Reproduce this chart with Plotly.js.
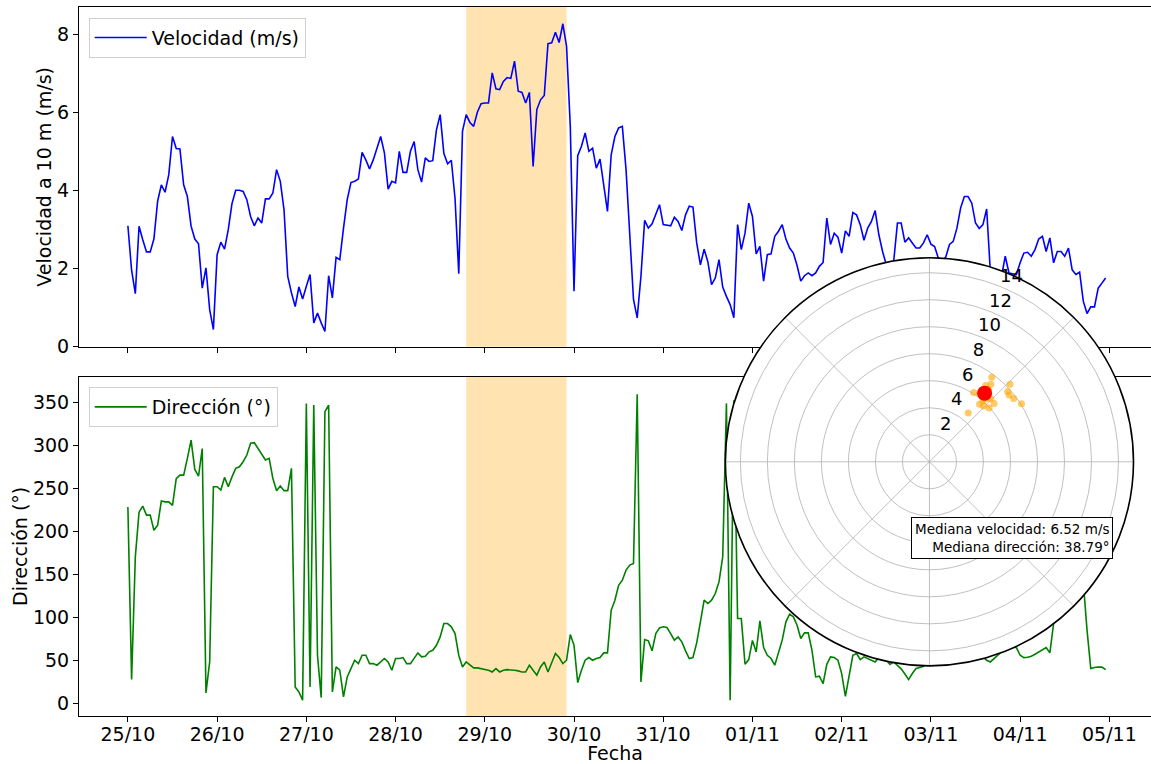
<!DOCTYPE html>
<html>
<head>
<meta charset="utf-8">
<script src="https://cdn.plot.ly/plotly-3.0.1.min.js"></script>
<style>
html,body{margin:0;padding:0;background:#fff;overflow:hidden;}
#chart{width:1151px;height:764px;}
</style>
</head>
<body>
<div id="chart"></div>
<script>
// ---- Data (hourly, starting 25/10 00:00) ----
const startDate = '2024-10-25T00:00:00Z';
const speed = [
 3.10,1.96,1.36,3.09,2.74,2.43,2.43,2.76,3.73,4.15,3.96,4.41,5.39,5.08,5.07,4.15,3.85,3.09,2.76,2.64,1.50,2.02,0.95,0.44,
 2.36,2.68,2.50,3.00,3.67,4.01,4.01,3.98,3.77,3.34,3.10,3.30,3.17,3.79,3.79,3.94,4.54,4.24,3.51,1.80,1.38,1.03,1.53,1.22,
 1.55,1.85,0.61,0.86,0.61,0.39,1.82,1.25,2.29,2.23,3.04,3.77,4.21,4.24,4.30,4.98,4.79,4.56,4.79,5.09,5.39,4.97,4.04,4.24,
 4.20,5.01,4.47,4.47,5.01,5.26,4.54,4.22,4.84,4.75,4.77,5.56,5.95,4.95,4.69,4.78,3.80,1.87,5.52,5.95,5.75,5.65,6.01,6.23,
 6.25,6.25,7.02,6.61,6.59,6.80,6.90,6.88,7.32,6.55,6.52,6.25,6.52,4.62,6.08,6.33,6.44,7.77,7.79,8.06,7.80,8.28,7.70,5.65,
 1.42,4.90,5.14,5.48,5.01,5.09,4.58,4.81,4.11,3.47,4.92,5.39,5.61,5.65,4.54,2.74,1.21,0.74,1.80,3.24,3.04,3.15,3.38,3.64,
 3.13,3.11,3.10,3.32,3.21,2.98,3.38,3.60,3.58,2.66,2.10,2.50,2.18,1.59,1.76,2.23,1.53,1.29,1.08,0.74,3.13,2.49,2.91,3.68,
 3.34,2.38,2.57,1.68,2.36,2.38,2.83,2.96,3.13,2.76,2.53,2.40,2.08,1.68,1.82,1.89,1.82,1.89,2.06,2.16,3.30,2.62,2.91,2.81,
 2.40,2.97,2.83,3.44,3.38,3.13,2.73,3.04,3.21,3.49,2.87,2.44,2.10,1.90,2.20,3.17,3.17,2.68,2.79,2.66,2.53,2.53,2.66,2.87,
 2.63,2.57,2.27,2.20,2.30,2.62,2.70,3.04,3.56,3.85,3.85,3.68,3.17,3.03,3.13,3.53,1.90,1.70,1.60,1.80,2.32,1.89,1.87,1.85,
 2.15,2.40,2.42,2.32,2.49,2.76,2.83,2.44,2.79,2.15,2.44,2.44,2.32,2.53,1.97,1.85,1.91,1.16,0.85,1.02,1.02,1.50,1.63,1.76
];
const direction = [
 228,27.5,170,222,229,218.6,218.6,201,207,235,234,234,230,261,265,265,284.5,305.8,271.7,264,296,12,48,251.6,
 251.6,247.7,262.4,251.6,263,272.9,274.8,280.6,288.4,302,302.7,296,290,282.6,284.5,261.2,247,252.3,247,247,272.9,19,13.2,3.5,
 348.4,19,346.5,55.8,6.6,338.8,346.5,13.2,42.2,38.4,7.4,30.6,40.3,50,46.1,55.8,55.8,46.1,46.1,44.2,48,52,48,38.4,
 52,52,53.1,46.1,46.1,52,58.5,53.9,54.7,59.7,61.6,67.4,77.1,92.6,92.6,88.8,81,55.8,42.2,48,44.2,41.1,41.1,40.3,
 39.1,38.4,36.4,40.3,36.4,38.4,39.1,39.1,38.4,37.6,36.4,36.4,44.2,38.4,32.6,42.2,48,36.4,48,57.8,53.1,46.1,50,79.8,
 67.4,24,38.4,50,53.1,50,52,53.1,58.5,58.5,108,119.8,137,143,154.7,160.5,162.4,359,24.8,74,72.5,60.9,81,87.6,
 88.8,88,81,73.3,77.1,71.3,60.9,52,53.1,70.2,94.6,119.8,115.9,119.8,127.5,141,170,348.4,3.5,352,98.4,98.4,45.3,50.8,
 73,59.7,95.7,64.7,55.8,52,44.2,58.5,73.3,94.6,103.5,100.4,90.7,75.2,81.8,81.8,61.6,30.6,31.4,22.9,45.3,53.9,53.1,50,
 34.5,8.1,30.6,55.8,57.8,50.8,53.9,52,50,48,53,55,50,45,48,44,40,34,27.5,34.5,40.3,41.5,43,48,
 52,55,50,47,52,58,60,55,50,48,52,56,62,58,54,50,48,52,57,60,62,66,65,64.7,
 55.8,53.1,53.5,54.7,57,59.7,62,64.7,58.5,92.6,105,115,120,125,135,145,150,140,85,40.3,41.5,42.2,42,39
];
const windowStart = '2024-10-28 19:00';
const windowEnd = '2024-10-29 22:00';
const medianSpeed = 6.52;
const medianDirection = 38.79;
const radialTicks = [2,4,6,8,10,12,14];
const xTickFormat = '%d/%m';

// ---- Build ----
const t0 = Date.parse(startDate);
function hourToDate(h){ return new Date(t0 + h*3600e3).toISOString().replace('T',' ').replace('Z',''); }
const times = speed.map((_, i) => hourToDate(i));
const ws = Date.parse(windowStart.replace(' ','T')+':00Z');
const we = Date.parse(windowEnd.replace(' ','T')+':00Z');
const inWin = times.map(t => { const v = Date.parse(t.replace(' ','T')+'Z'); return v>=ws && v<=we; });
const winSpeed = speed.filter((_, i) => inWin[i]);
const winDir = direction.filter((_, i) => inWin[i]);

const FONT = 'DejaVu Sans, sans-serif';
const n = speed.length;
const xRange = [hourToDate(-0.05*(n-1)), hourToDate((n-1) + 0.0464*(n-1))];

// radial tick labels placed like matplotlib (at 22.5-25deg, slightly outside each ring)
const rLabelAngle = 24;
const rLabelOffset = 0.95;

const traces = [
  {x: times, y: speed, xaxis:'x2', yaxis:'y2', type:'scatter', mode:'lines',
   line:{color:'#0000ff', width:1.6}, name:'Velocidad (m/s)', legend:'legend'},
  {x: times, y: direction, xaxis:'x', yaxis:'y', type:'scatter', mode:'lines',
   line:{color:'#008000', width:1.6}, name:'Dirección (°)', legend:'legend2'},
  {type:'scatterpolar', r: winSpeed, theta: winDir, mode:'markers', subplot:'polar',
   marker:{color:'rgba(255,165,0,0.6)', size:7}, showlegend:false},
  {type:'scatterpolar', r:[medianSpeed], theta:[medianDirection], mode:'markers', subplot:'polar',
   marker:{color:'#ff0000', size:15}, showlegend:false},
  {type:'scatterpolar', r: radialTicks.map(v => v + rLabelOffset), theta: radialTicks.map(() => rLabelAngle),
   mode:'text', text: radialTicks.map(String), textposition:'middle center', subplot:'polar',
   textfont:{family:FONT, size:18, color:'#000'}, showlegend:false, hoverinfo:'skip'}
];

const axisCommon = {showgrid:false, zeroline:false, showline:true, mirror:true, linecolor:'#000', linewidth:1,
  ticks:'outside', ticklen:5, tickwidth:1, tickcolor:'#000', tickfont:{family:FONT, size:19, color:'#000'}};

const L = 79.3, T = 7.3, B = 48.3, W = 1151, H = 764;
const ph = H - T - B, pw = W - L;
const layout = {
  width: W, height: H, margin:{l:L, r:0, t:T, b:B, pad:0},
  paper_bgcolor:'#fff', plot_bgcolor:'#fff',
  font:{family:FONT, size:19, color:'#000'},
  xaxis: Object.assign({}, axisCommon, {type:'date', range:xRange, tickformat:xTickFormat, dtick:86400000,
    tick0:startDate.slice(0,10), anchor:'y', domain:[0,1], ticklabelstandoff:-4,
    title:{text:'Fecha', font:{family:FONT, size:19}, standoff:0}}),
  xaxis2: Object.assign({}, axisCommon, {type:'date', range:xRange, dtick:86400000, tick0:startDate.slice(0,10),
    matches:'x', showticklabels:false, anchor:'y2', domain:[0,1]}),
  yaxis: Object.assign({}, axisCommon, {range:[-14.8, 379.4], tickvals:[0,50,100,150,200,250,300,350],
    domain:[0, 339/ph], anchor:'x', title:{text:'Dirección (°)', font:{family:FONT, size:19}, standoff:0}}),
  yaxis2: Object.assign({}, axisCommon, {range:[0, 8.71], tickvals:[0,2,4,6,8],
    domain:[(715.7-346.7)/ph, 1], anchor:'x2', title:{text:'Velocidad a 10 m (m/s)', font:{family:FONT, size:19}, standoff:0}}),
  legend:{x:(89-L)/pw, y:(715.7-18)/ph, xanchor:'left', yanchor:'top', bgcolor:'rgba(255,255,255,0.8)',
    bordercolor:'#d0d0d0', borderwidth:1, font:{family:FONT, size:19}, itemwidth:52},
  legend2:{x:(89-L)/pw, y:(715.7-387)/ph, xanchor:'left', yanchor:'top', bgcolor:'rgba(255,255,255,0.8)',
    bordercolor:'#d0d0d0', borderwidth:1, font:{family:FONT, size:19}, itemwidth:52},
  shapes:[
    {type:'rect', xref:'x', yref:'y domain', x0:windowStart, x1:windowEnd, y0:0, y1:1,
     fillcolor:'rgba(255,165,0,0.3)', line:{width:0}, layer:'below'},
    {type:'rect', xref:'x2', yref:'y2 domain', x0:windowStart, x1:windowEnd, y0:0, y1:1,
     fillcolor:'rgba(255,165,0,0.3)', line:{width:0}, layer:'below'}
  ],
  polar:{
    domain:{x:[(725.5-L)/pw, (1133.5-L)/pw], y:[(715.7-665.7)/ph, (715.7-257.7)/ph]},
    bgcolor:'#fff',
    angularaxis:{rotation:90, direction:'clockwise', dtick:45, showticklabels:false, ticks:'',
      showgrid:true, gridcolor:'#b0b0b0', gridwidth:0.8, showline:true, linecolor:'#000', linewidth:1.6},
    radialaxis:{range:[0, 15.11], tickvals:radialTicks, showline:false, ticks:'', showticklabels:false,
      showgrid:true, gridcolor:'#b0b0b0', gridwidth:0.8}
  },
  annotations:[
    {xref:'paper', yref:'paper', x:(1113.3-L)/pw, y:(715.7-559)/ph, xanchor:'right', yanchor:'bottom',
     align:'right', showarrow:false,
     text:'Mediana velocidad: ' + medianSpeed.toFixed(2) + ' m/s<br>Mediana dirección: ' + medianDirection.toFixed(2) + '°',
     font:{family:FONT, size:13.5, color:'#000'}, bgcolor:'#fff', bordercolor:'#000', borderwidth:1, borderpad:3}
  ]
};

Plotly.newPlot('chart', traces, layout, {staticPlot:true, displayModeBar:false});
</script>
</body>
</html>
